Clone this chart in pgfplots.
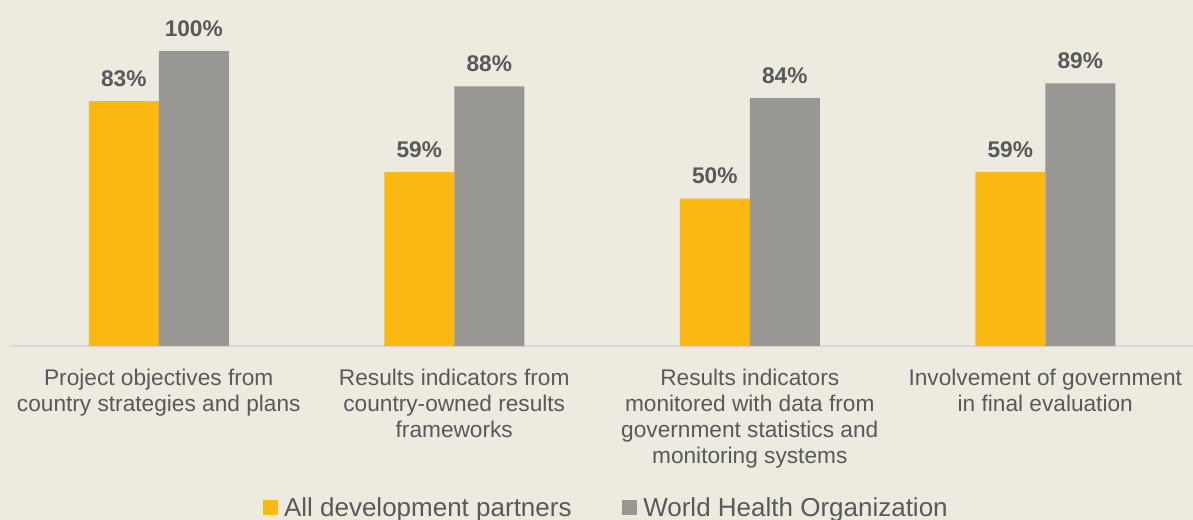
\documentclass[border=0pt]{standalone}
\usepackage{fontspec}
\setmainfont{Liberation Sans}
\usepackage{pgfplots}
\pgfplotsset{compat=1.18}

\definecolor{bgc}{HTML}{EDEAE0}
\definecolor{allpart}{HTML}{FDB913}
\definecolor{whoc}{HTML}{999793}
\definecolor{txt}{HTML}{595959}
\definecolor{axc}{HTML}{D9D9D9}

\begin{document}
\begin{tikzpicture}
  % background, 1px = 0.75pt
  \fill[bgc] (0,0) rectangle (894.75pt,-390pt);
  \begin{axis}[
      at={(8.25pt,-259.5pt)}, anchor=south west,
      scale only axis,
      width=886.5pt, height=221.25pt,
      ybar=0pt, bar width=52.5pt,
      xmin=-0.5, xmax=3.5, ymin=0, ymax=100,
      enlargelimits=false,
      clip=false,
      axis x line*=bottom, axis y line=none,
      axis line style={draw=axc, line width=1pt, -},
      xtick={0,1,2,3},
      xtick style={draw=none},
      xticklabels={
        {Project objectives from\\country strategies and plans},
        {Results indicators from\\country-owned results\\frameworks},
        {Results indicators\\monitored with data from\\government statistics and\\monitoring systems},
        {Involvement of government\\in final evaluation}},
      xticklabel style={align=center, text=txt,
        font=\fontsize{17pt}{19.5pt}\selectfont, yshift=-9.5pt},
      /pgf/number format/assume math mode=true,
      nodes near coords={\pgfmathprintnumber{\pgfplotspointmeta}\%},
      every node near coord/.append style={text=txt,
        font=\fontsize{17pt}{19.5pt}\selectfont\bfseries, yshift=7.5pt},
      legend columns=2,
      legend style={at={(0.504,-0.549)}, anchor=center, draw=none, fill=none,
        text=txt, font=\fontsize{19.5pt}{22pt}\selectfont,
        /tikz/every odd column/.append style={column sep=2.5pt},
        /tikz/every even column/.append style={column sep=36pt},
        inner sep=0pt},
      legend image code/.code={\fill[#1,draw=none] (0pt,-5.6pt) rectangle (11.25pt,5.6pt);},
    ]
    \addplot[fill=allpart, draw=none] coordinates {(0,83) (1,59) (2,50) (3,59)};
    \addlegendentry{All development partners}
    \addplot[fill=whoc, draw=none] coordinates {(0,100) (1,88) (2,84) (3,89)};
    \addlegendentry{World Health Organization}
  \end{axis}
  \pgfresetboundingbox
  \path[use as bounding box] (0,0) rectangle (894.75pt,-390pt);
\end{tikzpicture}
\end{document}
